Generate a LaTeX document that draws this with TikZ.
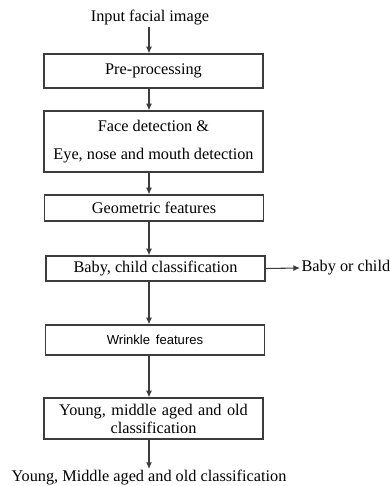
\documentclass[tikz,border=0pt]{standalone}
\usepackage{fontspec}
\setmainfont{Liberation Serif}
\newfontfamily\wrkfont{Liberation Sans}
\usetikzlibrary{arrows.meta,positioning,calc}
\definecolor{linegray}{RGB}{60,60,60}
\tikzset{
etape/.style={draw=linegray,line width=0.9pt,minimum width=219*0.75pt,align=center,inner sep=2pt},
fleche/.style={-{Latex[length=5pt,width=4.5pt]},draw=linegray,line width=0.8pt},
libre/.style={align=center,inner sep=1pt}
}

\begin{document}
\begin{tikzpicture}[x=0.75pt,y=-0.75pt,font=\fontsize{12.2}{13.5}\selectfont]
\useasboundingbox (0,0) rectangle (390,486);
%%% entree & pretraitement
\coordinate (ax) at (149,0);
\node[libre] (entree) at (150,18) {Input facial image};
\node[etape,minimum height=34*0.75pt] (pretr) at (153.5,71) {Pre-processing};
\node[etape,minimum height=61*0.75pt] (visage) at (153.5,141.5) {Face detection \&\\[7pt] Eye, nose and mouth detection};
\node[etape,minimum height=26*0.75pt] (geom) at (154,208) {Geometric features};
%%% bebe / enfant
\node[etape,minimum height=25*0.75pt] (bebe) at (155.5,268.5) {Baby, child classification};
\node[libre,anchor=west] (bebeout) at (300,268) {Baby or child};
%%% rides & age
\node[etape,minimum height=30*0.75pt,font=\wrkfont\fontsize{9.8}{11}\selectfont] (rides) at (155,340) {Wrinkle\ \,features};
\node[etape,minimum height=41*0.75pt,text width=205*0.75pt,inner sep=1pt] (age) at (153.5,418.5) {Young, middle aged and old\\classification};
\node[libre] (sortie) at (149,478) {Young, Middle aged and old classification};
%%% fleches
\draw[fleche] (entree.south -| ax) -- (pretr.north -| ax);
\draw[fleche] (pretr.south -| ax) -- (visage.north -| ax);
\draw[fleche] (visage.south -| ax) -- (geom.north -| ax);
\draw[fleche] (geom.south -| ax) -- (bebe.north -| ax);
\draw[fleche] (bebe.east) -- (bebeout.west);
\draw[fleche] (bebe.south -| ax) -- (rides.north -| ax);
\draw[fleche] (rides.south -| ax) -- (age.north -| ax);
\draw[fleche] (age.south -| ax) -- (sortie.north -| ax);
\end{tikzpicture}
\end{document}
